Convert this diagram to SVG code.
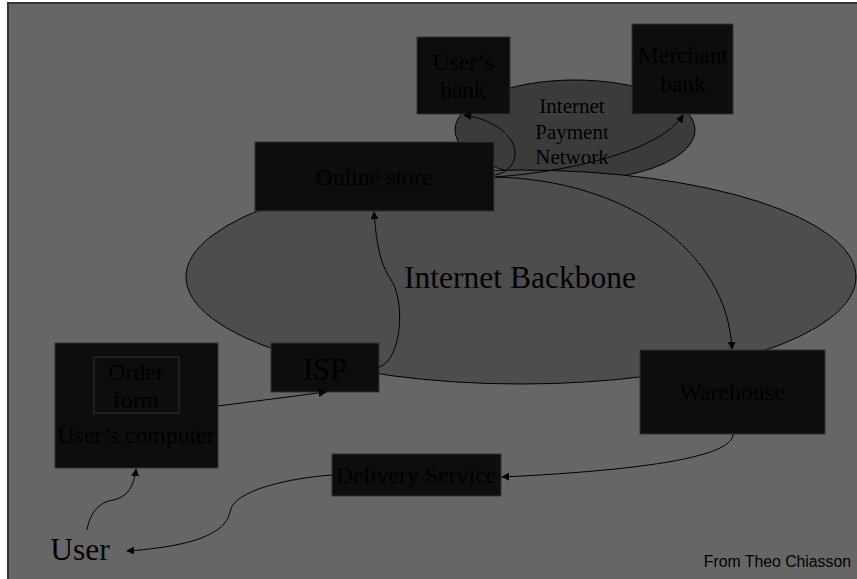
<svg xmlns="http://www.w3.org/2000/svg" width="857" height="579" viewBox="0 0 857 579">
  <style>
    .box { fill: #0d0d0d; stroke: #333333; stroke-width: 1; }
    .lbl { font-family: "Liberation Serif", "Times New Roman", serif; fill: #000000; text-anchor: middle; }
    .conn { fill: none; stroke: #000000; stroke-width: 1; }
  </style>
  <defs>
    <marker id="arrow" viewBox="0 0 10 10" refX="9" refY="5" markerWidth="8" markerHeight="8" markerUnits="userSpaceOnUse" orient="auto">
      <path d="M0,0 L10,5 L0,10 z" fill="#000000"/>
    </marker>
  </defs>

  <rect width="857" height="579" fill="#ffffff"/>
  <!-- slide frame -->
  <rect x="8" y="3" width="860" height="590" fill="#666666" stroke="#333333" stroke-width="2"/>

  <!-- clouds -->
  <g id="payment-network">
    <ellipse cx="575" cy="130" rx="120" ry="50" fill="#3b3b3b" stroke="#000000" stroke-width="1"/>
  </g>
  <g id="backbone">
    <ellipse cx="521" cy="277" rx="335" ry="107" fill="#4d4d4d" stroke="#000000" stroke-width="1"/>
    <text class="lbl" x="520" y="288" font-size="31.5">Internet Backbone</text>
  </g>
  <g id="payment-network-label">
    <text class="lbl" x="572" y="113" font-size="21">Internet</text>
    <text class="lbl" x="572" y="139" font-size="21">Payment</text>
    <text class="lbl" x="572" y="164" font-size="21">Network</text>
  </g>

  <!-- nodes -->
  <g id="users-bank">
    <rect class="box" x="417" y="37" width="93" height="77"/>
    <text class="lbl" x="463" y="70" font-size="23.5">User’s</text>
    <text class="lbl" x="463" y="98" font-size="23.5">bank</text>
  </g>
  <g id="merchant-bank">
    <rect class="box" x="632" y="24" width="101" height="90"/>
    <text class="lbl" x="683" y="63" font-size="23.5">Merchant</text>
    <text class="lbl" x="683" y="92" font-size="23.5">bank</text>
  </g>
  <g id="online-store">
    <rect class="box" x="255" y="142" width="239" height="69"/>
    <text class="lbl" x="374" y="185" font-size="23.8">Online store</text>
  </g>
  <g id="isp">
    <rect class="box" x="271" y="343" width="108" height="49"/>
    <text class="lbl" x="325" y="380" font-size="30.5">ISP</text>
  </g>
  <g id="users-computer">
    <rect class="box" x="55" y="343" width="163" height="125"/>
    <rect class="box" x="94" y="357" width="85" height="56"/>
    <text class="lbl" x="136" y="380" font-size="23.8">Order</text>
    <text class="lbl" x="136" y="408" font-size="23.8">form</text>
    <text class="lbl" x="136" y="443" font-size="23.8">User’s computer</text>
  </g>
  <g id="warehouse">
    <rect class="box" x="640" y="350" width="185" height="84"/>
    <text class="lbl" x="732" y="400" font-size="23.8">Warehouse</text>
  </g>
  <g id="delivery-service">
    <rect class="box" x="332" y="454" width="169" height="42"/>
    <text class="lbl" x="416" y="483" font-size="23.8">Delivery Service</text>
  </g>
  <g id="user">
    <text class="lbl" x="80" y="560" font-size="31.5">User</text>
  </g>

  <!-- connectors -->
  <g id="connectors">
    <path class="conn" d="M495,175 C528,168 522,124 464,115" marker-end="url(#arrow)"/>
    <path class="conn" d="M495,177 C565,172 660,152 683,115" marker-end="url(#arrow)"/>
    <path class="conn" d="M495,177 C625,180 727,250 732,349" marker-end="url(#arrow)"/>
    <path class="conn" d="M379,367 C402,360 406,300 390,278 C380,264 376,240 374,212" marker-end="url(#arrow)"/>
    <path class="conn" d="M218,406 L326,392" marker-end="url(#arrow)"/>
    <path class="conn" d="M87,530 C90,512 100,502 113,500 C128,497 134,486 136,469" marker-end="url(#arrow)"/>
    <path class="conn" d="M332,475 C290,478 233,490 230,512 C225,540 170,548 127,551" marker-end="url(#arrow)"/>
    <path class="conn" d="M733,434 C733,456 650,470 502,477" marker-end="url(#arrow)"/>
  </g>

  <text x="851" y="567" font-family="Liberation Sans, Arial, sans-serif" font-size="15.8" fill="#000000" text-anchor="end">From Theo Chiasson</text>
</svg>
